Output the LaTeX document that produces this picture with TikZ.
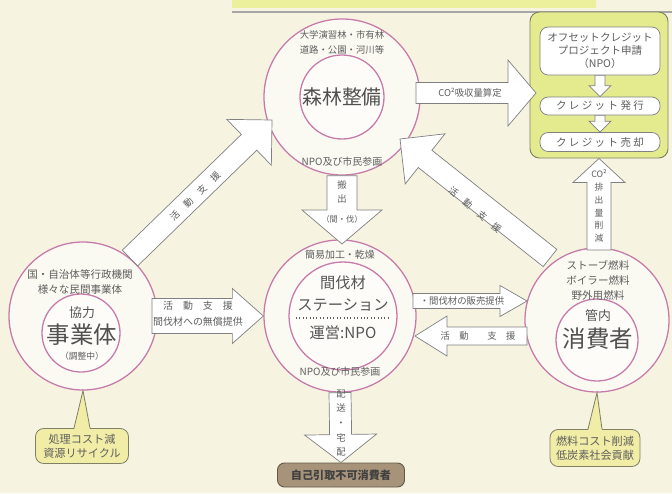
\documentclass[tikz,border=0pt]{standalone}
\usepackage{fontspec}
\setmainfont{Noto Sans CJK JP}
\usetikzlibrary{calc}

\definecolor{bgc}{HTML}{F6F4E1}
\definecolor{ringc}{HTML}{C67BAA}
\definecolor{txtc}{HTML}{5E5E5E}
\definecolor{arrc}{HTML}{808080}
\definecolor{greenc}{HTML}{E3EB8E}
\definecolor{calloutc}{HTML}{F1ECA6}
\definecolor{brownc}{HTML}{A79379}
\definecolor{bandc}{HTML}{ECEF9C}

% block arrow: [opts]{from}{to}{shaft half}{head half}{head length}
\newcommand{\blockarrow}[6][]{%
  \coordinate (ba-h) at ($(#3)!#6!(#2)$);
  \draw[barrow,#1] ($(#2)!#4!90:(#3)$) -- ($(ba-h)!#4!-90:(#2)$)
    -- ($(ba-h)!#5!-90:(#2)$) -- (#3) -- ($(ba-h)!#5!90:(#2)$)
    -- ($(ba-h)!#4!90:(#2)$) -- ($(#2)!#4!-90:(#3)$) -- cycle;
}

\begin{document}
\begin{tikzpicture}[
    x=0.03cm, y=-0.03cm,
    ring/.style={circle, draw=ringc, line width=1.1pt, fill=white!55!bgc, inner sep=0pt},
    core/.style={circle, draw=ringc, line width=1.1pt, fill=white!75!bgc, inner sep=0pt},
    barrow/.style={draw=arrc, fill=white, line width=0.6pt, line join=miter},
    lbl/.style={text=txtc, font=\fontsize{8.5}{10}\selectfont, inner sep=0pt, align=center},
    alab/.style={text=txtc, font=\fontsize{8}{9}\selectfont, inner sep=0pt, align=center},
    vlab/.style={text=txtc, font=\fontsize{8}{12.5}\selectfont, inner sep=0pt, align=center},
    midtxt/.style={text=txtc!90!black, font=\fontsize{13}{15}\selectfont, inner sep=0pt},
    bigtxt/.style={text=txtc!85!black, font=\fontsize{20}{22}\selectfont, inner sep=0pt},
    gbox/.style={rectangle, rounded corners=8pt, draw=arrc!80!olive, fill=greenc, line width=0.8pt},
    wbox/.style={rectangle, rounded corners=7pt, draw=arrc, fill=white, line width=0.6pt,
        text=txtc, font=\fontsize{9}{11}\selectfont, align=center, inner sep=1pt},
    callout/.style={rectangle, rounded corners=7pt, draw=arrc!80!olive, fill=calloutc, line width=0.7pt,
        text=txtc, font=\fontsize{9.5}{12}\selectfont, align=center, inner sep=1pt},
    brownbox/.style={rectangle, rounded corners=6pt, draw=brownc!60!black, fill=brownc, line width=0.8pt,
        text=black!75, font=\bfseries\fontsize{9.5}{11}\selectfont, inner sep=1pt}
]

\useasboundingbox (0,0) rectangle (672,493);
\fill[bgc] (0,0) rectangle (672,493);
\fill[bandc] (232,0) rectangle (596,8);
\draw[gray!70, line width=1.2pt] (232,12) -- (672,12);

% --- circles ---
\node[ring, minimum size=4.68cm] (forest) at (342,97) {};
\node[core, minimum size=2.52cm] (forestin) at (342,97) {};

\node[ring, minimum size=4.56cm] (station) at (340,316) {};
\node[core, minimum size=3.24cm] (stationin) at (343,316) {};

\node[ring, minimum size=4.44cm] (kyoryoku) at (83,316) {};
\node[core, minimum size=2.34cm] (kyoryokuin) at (81,333) {};

\node[ring, minimum size=4.32cm] (consumer) at (597,320) {};
\node[core, minimum size=2.46cm] (consumerin) at (597,340) {};

% --- credit box ---
\node[gbox, minimum width=4.14cm, minimum height=4.38cm] (credit) at (599,85) {};
\node[wbox, minimum width=3.6cm, minimum height=1.44cm] (apply) at (600,51)
    {オフセットクレジット\\プロジェクト申請\\（NPO）};
\node[wbox, minimum width=3.6cm, minimum height=0.54cm] (issue) at (600,106)
    {ク レ ジ ッ ト 発 行};
\node[wbox, minimum width=3.6cm, minimum height=0.57cm] (sell) at (600,142)
    {ク レ ジ ッ ト 売 却};
\blockarrow{apply.south}{issue.north}{0.15cm}{0.33cm}{0.33cm}
\blockarrow{issue.south}{sell.north}{0.15cm}{0.33cm}{0.33cm}

% --- merit callouts ---
\node[callout, minimum width=2.79cm, minimum height=1.05cm] (merit1) at (82,446)
    {処理コスト減\\資源リサイクル};
\fill[calloutc] ($(merit1.north)+(-8,2)$) -- (kyoryoku.south) -- ($(merit1.north)+(8,2)$) -- cycle;
\draw[arrc!80!olive, line width=0.7pt] (merit1.north) ++(-8,0) -- (kyoryoku.south) -- ($(merit1.north)+(8,0)$);

\node[callout, minimum width=2.7cm, minimum height=1.11cm] (merit2) at (595,448)
    {燃料コスト削減\\低炭素社会貢献};
\fill[calloutc] ($(merit2.north)+(-7,2)$) -- (consumer.south) -- ($(merit2.north)+(7,2)$) -- cycle;
\draw[arrc!80!olive, line width=0.7pt] (merit2.north) ++(-7,0) -- (consumer.south) -- ($(merit2.north)+(7,0)$);

% --- end user box ---
\node[brownbox, minimum width=3.81cm, minimum height=0.72cm] (pickup) at (341,475) {自己引取不可消費者};

% --- arrows ---
\coordinate (a1s) at (416,93);  \coordinate (a1e) at (536,93);
\coordinate (a2s) at (130,258); \coordinate (a2e) at (272,120);
\coordinate (a3s) at (550,258); \coordinate (a3e) at (400,139);
\coordinate (a4s) at (599,250);
\coordinate (a5e) at (342,244);
\coordinate (a6s) at (152,316);
\coordinate (a7s) at (413,301); \coordinate (a7e) at (527,301);
\coordinate (a8s) at (527,336); \coordinate (a8e) at (415,336);

\blockarrow{a1s}{a1e}{0.315cm}{0.99cm}{0.84cm}
\blockarrow{a2s}{a2e}{0.33cm}{0.96cm}{0.96cm}
\blockarrow{a3s}{a3e}{0.33cm}{0.96cm}{0.96cm}
\blockarrow{a4s}{credit.south}{0.36cm}{0.78cm}{0.72cm}
\blockarrow{forest.south}{a5e}{0.45cm}{1.2cm}{1.02cm}
\blockarrow{a6s}{station.west}{0.525cm}{0.825cm}{0.93cm}
\blockarrow{a7s}{a7e}{0.225cm}{0.465cm}{0.81cm}
\blockarrow{a8s}{a8e}{0.27cm}{0.6cm}{0.96cm}
\blockarrow{station.south}{pickup.north}{0.33cm}{1.08cm}{0.84cm}

% --- arrow labels ---
\node[alab] (co2cut) at (470,93) {CO²吸収量算定};
\node[alab, rotate=44] (sup1) at (195,196) {活　動　支　援};
\node[alab, rotate=-40] (sup2) at (475,210) {活　動　支　援};
\node[vlab, font=\fontsize{7.5}{11}\selectfont] (co2red) at (599,206) {CO²\\排\\出\\量\\削\\減};
\node[vlab] (haul) at (342,192) {搬\\出};
\node[alab, font=\fontsize{7}{8}\selectfont] (haul2) at (342,219) {（間・伐）};
\node[alab, font=\fontsize{8.5}{14}\selectfont] (sup3) at (198,314) {活　動　支　援\\間伐材への無償提供};
\node[alab] (sales) at (462,301) {・間伐材の販売提供};
\node[alab] (sup4) at (478,336) {活　動　　支　援};
\node[vlab] (deliver) at (341,423) {配\\送\\・\\宅\\配};

% --- circle texts ---
\node[lbl, font=\fontsize{8}{9.5}\selectfont] (forest-t1) at (342,35) {大学演習林・市有林};
\node[lbl, font=\fontsize{8}{9.5}\selectfont] (forest-t2) at (342,50) {道路・公園・河川等};
\node[bigtxt, font=\fontsize{17}{19}\selectfont] (forest-t) at (342,97) {森林整備};
\node[lbl] (forest-t3) at (342,162) {NPO及び市民参画};

\node[lbl] (station-t1) at (340,255) {簡易加工・乾燥};
\node[midtxt] (station-t2) at (343,283) {間伐材};
\node[midtxt] (station-t3) at (343,305) {ステーション};
\draw[txtc, dotted, line width=0.9pt] (296,318) -- (390,318);
\node[midtxt] (station-t4) at (343,333) {運営:NPO};
\node[lbl] (station-t5) at (340,372) {NPO及び市民参画};

\node[lbl, font=\fontsize{9}{10.5}\selectfont] (kyoryoku-t1) at (80,274) {国・自治体等行政機関};
\node[lbl, font=\fontsize{9}{10.5}\selectfont] (kyoryoku-t2) at (80,289) {様々な民間事業体};
\node[midtxt, font=\fontsize{11}{13}\selectfont] (kyoryoku-t3) at (82,313) {協力};
\node[bigtxt] (kyoryoku-t) at (82,335) {事業体};
\node[lbl, font=\fontsize{7.5}{9}\selectfont] (kyoryoku-t4) at (82,356) {（調整中）};

\node[lbl, font=\fontsize{9}{10.5}\selectfont] (consumer-t1) at (598,265) {ストーブ燃料};
\node[lbl, font=\fontsize{9}{10.5}\selectfont] (consumer-t2) at (598,280) {ボイラー燃料};
\node[lbl, font=\fontsize{9}{10.5}\selectfont] (consumer-t3) at (598,295) {野外用燃料};
\node[midtxt, font=\fontsize{11}{13}\selectfont] (consumer-t4) at (598,316) {管内};
\node[bigtxt] (consumer-t) at (598,339) {消費者};

\end{tikzpicture}
\end{document}
